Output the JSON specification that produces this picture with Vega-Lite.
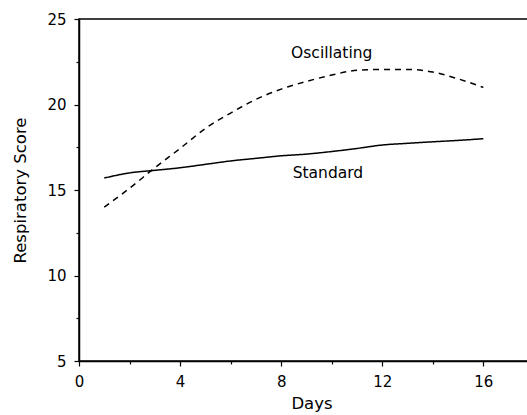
{
  "$schema": "https://vega.github.io/schema/vega-lite/v6.json",
  "autosize": "none",
  "padding": {"left": 79, "top": 19, "right": 0, "bottom": 54},
  "width": 465,
  "height": 342,
  "background": "white",
  "config": {
    "view": {"stroke": "black", "strokeWidth": 1.5},
    "axis": {"grid": false, "domainColor": "black", "domainWidth": 1.5, "tickColor": "black", "tickWidth": 1.2, "labelColor": "black", "titleColor": "black", "labelFont": "DejaVu Sans", "titleFont": "DejaVu Sans", "labelFontSize": 15, "titleFontSize": 16.5, "titleFontWeight": "normal"}
  },
  "datasets": {
    "curves": [
      {"day": 1, "score": 15.7, "series": "Standard"},
      {"day": 2, "score": 16.0, "series": "Standard"},
      {"day": 3, "score": 16.15, "series": "Standard"},
      {"day": 4, "score": 16.3, "series": "Standard"},
      {"day": 5, "score": 16.5, "series": "Standard"},
      {"day": 6, "score": 16.7, "series": "Standard"},
      {"day": 7, "score": 16.85, "series": "Standard"},
      {"day": 8, "score": 17.0, "series": "Standard"},
      {"day": 9, "score": 17.1, "series": "Standard"},
      {"day": 10, "score": 17.25, "series": "Standard"},
      {"day": 11, "score": 17.43, "series": "Standard"},
      {"day": 12, "score": 17.63, "series": "Standard"},
      {"day": 13, "score": 17.73, "series": "Standard"},
      {"day": 14, "score": 17.82, "series": "Standard"},
      {"day": 15, "score": 17.9, "series": "Standard"},
      {"day": 16, "score": 18.0, "series": "Standard"},
      {"day": 1, "score": 14.0, "series": "Oscillating"},
      {"day": 2, "score": 15.1, "series": "Oscillating"},
      {"day": 3, "score": 16.3, "series": "Oscillating"},
      {"day": 4, "score": 17.43, "series": "Oscillating"},
      {"day": 5, "score": 18.6, "series": "Oscillating"},
      {"day": 6, "score": 19.5, "series": "Oscillating"},
      {"day": 7, "score": 20.3, "series": "Oscillating"},
      {"day": 8, "score": 20.9, "series": "Oscillating"},
      {"day": 9, "score": 21.35, "series": "Oscillating"},
      {"day": 10, "score": 21.72, "series": "Oscillating"},
      {"day": 11, "score": 22.0, "series": "Oscillating"},
      {"day": 12, "score": 22.05, "series": "Oscillating"},
      {"day": 13, "score": 22.05, "series": "Oscillating"},
      {"day": 14, "score": 21.9, "series": "Oscillating"},
      {"day": 15, "score": 21.5, "series": "Oscillating"},
      {"day": 16, "score": 21.0, "series": "Oscillating"}
    ],
    "labels": [
      {"day": 10, "score": 23.0, "text": "Oscillating"},
      {"day": 9.85, "score": 16.0, "text": "Standard"}
    ]
  },
  "layer": [
    {
      "data": {"name": "curves"},
      "mark": {"type": "line", "color": "black", "strokeWidth": 1.5, "clip": true, "interpolate": "monotone"},
      "encoding": {
        "x": {
          "field": "day", "type": "quantitative", "title": "Days",
          "scale": {"domain": [0, 18.4], "nice": false, "zero": false},
          "axis": {
            "values": [0, 2, 4, 6, 8, 10, 12, 14, 16, 18],
            "labelExpr": "datum.value % 4 === 0 ? datum.label : ''",
            "tickSize": {"condition": {"test": "datum.value % 4 === 0", "value": 5}, "value": 3},
            "labelPadding": 8, "titlePadding": 6, "labelFlush": false
          }
        },
        "y": {
          "field": "score", "type": "quantitative", "title": "Respiratory Score",
          "scale": {"domain": [5, 25], "nice": false, "zero": false},
          "axis": {
            "values": [5, 7.5, 10, 12.5, 15, 17.5, 20, 22.5, 25],
            "labelExpr": "datum.value % 5 === 0 ? datum.label : ''",
            "tickSize": {"condition": {"test": "datum.value % 5 === 0", "value": 5}, "value": 3},
            "labelPadding": 8, "titlePadding": 18, "labelFlush": false
          }
        },
        "strokeDash": {
          "field": "series", "type": "nominal",
          "scale": {"domain": ["Standard", "Oscillating"], "range": [[1, 0], [6, 5]]},
          "legend": null
        },
        "detail": {"field": "series"}
      }
    },
    {
      "data": {"name": "labels"},
      "mark": {"type": "text", "font": "DejaVu Sans", "fontSize": 15.5, "color": "black", "align": "center", "baseline": "middle"},
      "encoding": {
        "x": {"field": "day", "type": "quantitative"},
        "y": {"field": "score", "type": "quantitative"},
        "text": {"field": "text"}
      }
    }
  ]
}
